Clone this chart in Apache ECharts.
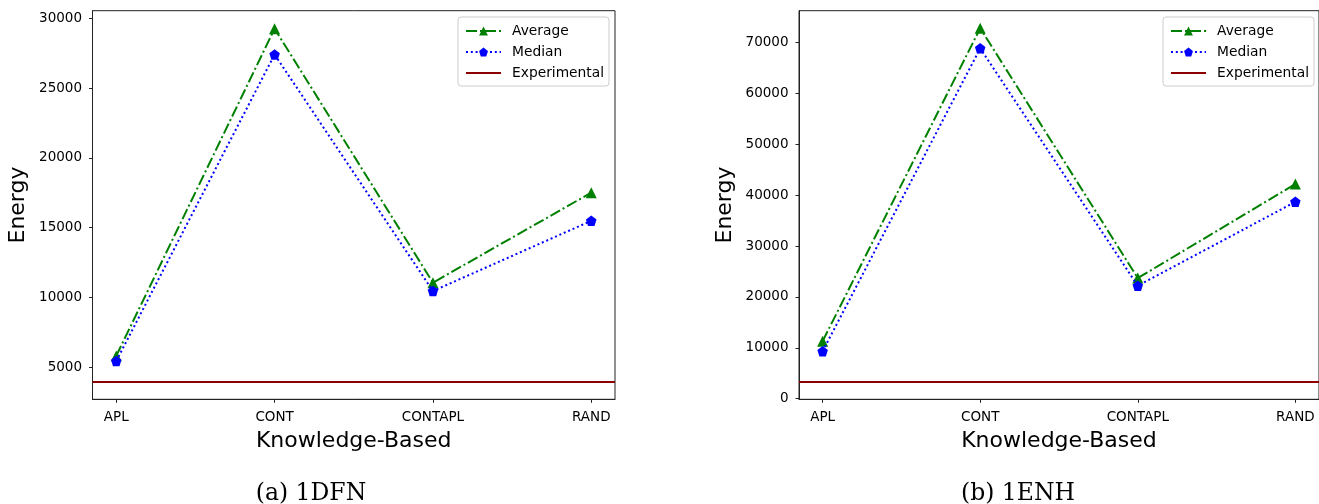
<!DOCTYPE html>
<html>
<head>
<meta charset="utf-8">
<title>Energy by knowledge-based strategy</title>
<script src="https://cdn.jsdelivr.net/npm/echarts@6/dist/echarts.min.js"></script>
<style>
  html, body { margin: 0; padding: 0; background: #fff; }
  #chart { width: 1319px; height: 504px; }
</style>
</head>
<body>
<div id="chart"></div>
<script>
// Strategies on the x axis
const categories = ['APL', 'CONT', 'CONTAPL', 'RAND'];

// 1DFN
const averageDFN = [5800, 29250, 11050, 17500];
const medianDFN = [5430, 27400, 10450, 15480];
const experimentalDFN = 3930;
const yTicksDFN = [5000, 10000, 15000, 20000, 25000, 30000];

// 1ENH
const averageENH = [11300, 72850, 23700, 42200];
const medianENH = [9300, 68900, 22200, 38700];
const experimentalENH = 3340;
const yTicksENH = [0, 10000, 20000, 30000, 40000, 50000, 60000, 70000];

const captions = ['(a) 1DFN', '(b) 1ENH'];
const seriesNames = ['Average', 'Median', 'Experimental'];

const GREEN = '#008000';
const BLUE = '#0000ff';
const RED = '#8b0000';
const AXIS = '#222';
const SANS = 'DejaVu Sans';
const pentagon = 'path://M0,-1 L0.951,-0.309 L0.588,0.809 L-0.588,0.809 L-0.951,-0.309 Z';
// plain horizontal bar used as the legend key of the reference line
const barIcon = 'path://M0,0 L35,0 L35,2 L0,2 Z';
const xIndex = categories.map((_, i) => i);

const panels = [
  { left: 92.5, yMin: 2690, yMax: 30540, ticks: yTicksDFN, avg: averageDFN, med: medianDFN, exp: experimentalDFN,
    legendLeft: 458, captionX: 306 },
  { left: 799, yMin: -140, yMax: 76300, ticks: yTicksENH, avg: averageENH, med: medianENH, exp: experimentalENH,
    legendLeft: 1163, captionX: 1013 }
];
const plotW = 522.5, plotTop = 10.7, plotH = 388.6;
const TICK_FONT = 13.5;

const grid = [], xAxis = [], yAxis = [], series = [], legend = [], title = [];

panels.forEach((p, k) => {
  grid.push({ left: p.left, top: plotTop, width: plotW, height: plotH, show: true,
              borderColor: AXIS, borderWidth: 1, backgroundColor: 'transparent' });

  xAxis.push({
    gridIndex: k, type: 'value', min: -0.15, max: categories.length - 1 + 0.15,
    name: 'Knowledge-Based', nameLocation: 'middle', nameGap: 31,
    nameTextStyle: { fontFamily: SANS, fontSize: 22, color: '#000' },
    axisLine: { show: true, onZero: false, lineStyle: { color: AXIS, width: 1 } },
    axisTick: { show: true, length: 3.5, customValues: xIndex, lineStyle: { color: AXIS } },
    axisLabel: { customValues: xIndex, margin: 11.5, fontFamily: SANS, fontSize: TICK_FONT, color: '#000',
                 formatter: v => categories[Math.round(v)] },
    splitLine: { show: false }
  });

  yAxis.push({
    gridIndex: k, type: 'value', min: p.yMin, max: p.yMax,
    name: 'Energy', nameLocation: 'middle', nameGap: 63,
    nameTextStyle: { fontFamily: SANS, fontSize: 22, color: '#000' },
    axisLine: { show: true, onZero: false, lineStyle: { color: AXIS, width: 1 } },
    axisTick: { show: true, length: 3.5, customValues: p.ticks, lineStyle: { color: AXIS } },
    axisLabel: { customValues: p.ticks, margin: 10.5, fontFamily: SANS, fontSize: TICK_FONT, color: '#000',
                 formatter: v => String(v) },
    splitLine: { show: false }
  });

  series.push({
    name: 'Average', type: 'line', xAxisIndex: k, yAxisIndex: k,
    data: p.avg.map((v, i) => [i, v]),
    symbol: 'triangle', symbolSize: 11,
    itemStyle: { color: GREEN },
    lineStyle: { color: GREEN, width: 2, type: [11, 3, 2, 3] },
    z: 3
  });
  series.push({
    name: 'Median', type: 'line', xAxisIndex: k, yAxisIndex: k,
    data: p.med.map((v, i) => [i, v]),
    symbol: pentagon, symbolSize: 10.5,
    itemStyle: { color: BLUE },
    lineStyle: { color: BLUE, width: 2, type: [2, 2.8] },
    z: 4
  });
  series.push({
    name: 'Experimental', type: 'line', xAxisIndex: k, yAxisIndex: k,
    data: [], symbol: 'none',
    itemStyle: { color: RED },
    lineStyle: { color: RED, width: 2 },
    markLine: {
      silent: true, symbol: ['none', 'none'], label: { show: false },
      lineStyle: { color: RED, width: 2, type: 'solid' },
      emphasis: { disabled: true },
      data: [{ yAxis: p.exp }]
    },
    z: 2
  });

  legend.push({
    left: p.legendLeft, top: 17, orient: 'vertical',
    padding: [7, 5, 6, 7], itemGap: 7, itemWidth: 35, itemHeight: 11,
    backgroundColor: 'rgba(255,255,255,0.8)', borderColor: '#ccc', borderWidth: 1, borderRadius: 3,
    textStyle: { fontFamily: SANS, fontSize: 13.8, color: '#000', lineHeight: 14, padding: [0, 0, 0, 6] },
    selectedMode: false,
    data: [
      { name: seriesNames[0] },
      { name: seriesNames[1] },
      { name: seriesNames[2], icon: barIcon }
    ],
    z: 10
  });

  title.push({
    text: captions[k], left: p.captionX, top: 477, textAlign: 'center',
    textStyle: { fontFamily: 'DejaVu Serif', fontSize: 23.5, fontWeight: 'normal', color: '#000' }
  });
});

const chart = echarts.init(document.getElementById('chart'), null, { renderer: 'canvas' });
chart.setOption({
  animation: false,
  backgroundColor: '#fff',
  title, grid, xAxis, yAxis, series, legend
});
</script>
</body>
</html>
